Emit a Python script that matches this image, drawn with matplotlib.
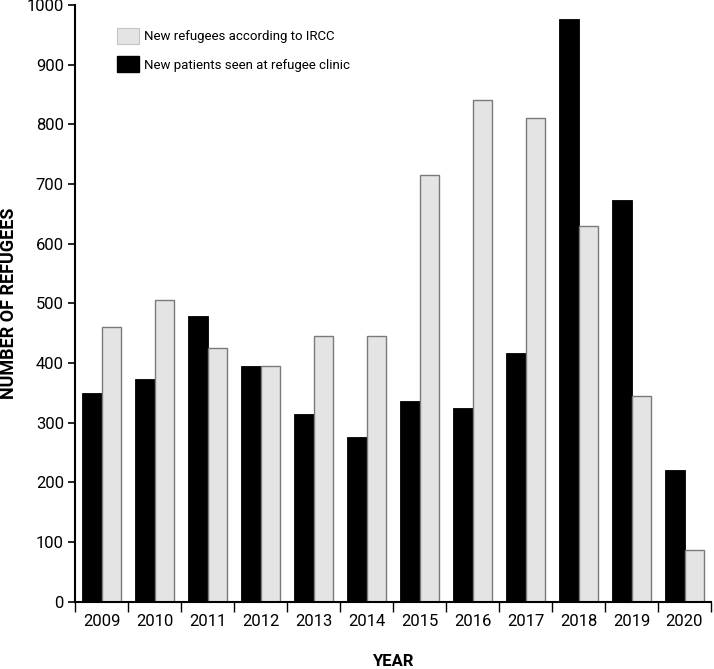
import matplotlib
matplotlib.use("Agg")
import matplotlib.pyplot as plt
import numpy as np
from matplotlib.patches import Patch

years = ["2009", "2010", "2011", "2012", "2013", "2014", "2015", "2016", "2017", "2018", "2019", "2020"]
clinic = [349, 373, 479, 395, 314, 276, 337, 324, 416, 977, 674, 221]
ircc = [460, 505, 425, 395, 445, 445, 715, 840, 810, 630, 345, 86]
yticks = [0, 100, 200, 300, 400, 500, 600, 700, 800, 900, 1000]

plt.rcParams['font.family'] = ['Roboto', 'DejaVu Sans']

fig = plt.figure(figsize=(7.14, 6.69), dpi=100)
ax = fig.add_axes([75/714, 1-601.7/669, (711-75)/714, (601.7-5)/669])

x = np.arange(len(years))
w = 0.375
ax.bar(x - w/2, clinic, width=w, color='black', edgecolor='black', linewidth=0.6, zorder=2)
ax.bar(x + w/2, ircc, width=w, color='#e4e4e4', edgecolor='#7a7a7a', linewidth=1.0, zorder=2)

ax.set_xlim(-0.5, len(years) - 0.5)
ax.set_ylim(0, 1000)
ax.set_yticks(yticks)
ax.set_yticklabels([str(t) for t in yticks], fontsize=12)
ax.tick_params(axis='y', length=5, width=1.2, pad=3)

ax.set_xticks(np.arange(len(years) + 1) - 0.5)
ax.set_xticklabels([])
ax.tick_params(axis='x', which='major', length=7, width=1.0)
ax.set_xticks(x, minor=True)
ax.set_xticklabels(years, minor=True, fontsize=12)
ax.tick_params(axis='x', which='minor', length=0, pad=9)

for s in ['top', 'right']:
    ax.spines[s].set_visible(False)
ax.spines['left'].set_linewidth(1.5)
ax.spines['bottom'].set_linewidth(1.5)

ax.set_xlabel("YEAR", fontsize=12, fontweight='bold', labelpad=18)
ax.set_ylabel("NUMBER OF REFUGEES", fontsize=13, fontweight='bold')
ax.yaxis.set_label_coords((18 - 75) / 636, 0.5)

handles = [Patch(facecolor='#e4e4e4', edgecolor='#c4c4c4', linewidth=0.8),
           Patch(facecolor='black', edgecolor='black')]
labels = ["New refugees according to IRCC", "New patients seen at refugee clinic"]
fs = 9.5
em = fs * 100 / 72
leg = ax.legend(handles, labels, loc='upper left',
                bbox_to_anchor=((117 - 0.2 * em) / 714, 1 - (28 - 0.2 * em) / 669),
                bbox_transform=fig.transFigure, frameon=False, fontsize=fs,
                handlelength=22 / em, handleheight=20 / em, handletextpad=5 / em,
                labelspacing=12 / em, borderpad=0.2, borderaxespad=0)

fig.savefig("out.png", dpi=100)
